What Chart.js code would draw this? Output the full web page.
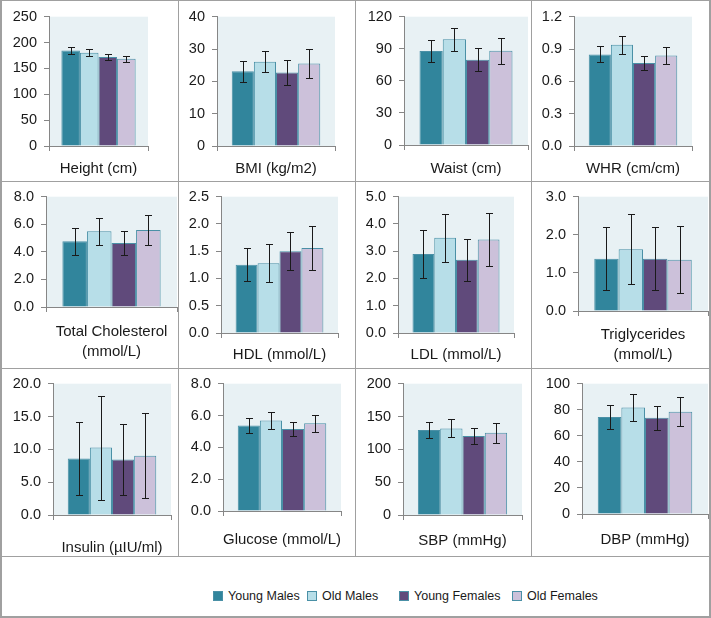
<!DOCTYPE html>
<html><head><meta charset="utf-8">
<script src="https://cdn.jsdelivr.net/npm/chart.js@4.4.1/dist/chart.umd.min.js"></script>
<style>
body{margin:0;background:#fff;}
#wrap{position:relative;width:711px;height:618px;overflow:hidden;font-family:"Liberation Sans",Arial,sans-serif;background:#fff;}
canvas{position:absolute;}
.ln{position:absolute;background:#a0a0a0;z-index:5;}
#legend{position:absolute;left:0;top:576px;width:711px;height:40px;font-size:12.5px;color:#1a1a1a;}
#legend .it{position:absolute;top:0;height:40px;display:flex;align-items:center;white-space:nowrap;}
#legend .sw{width:10px;height:10px;margin-right:5px;box-sizing:border-box;}
</style></head>
<body><div id="wrap"><div id="legend"></div></div>
<script>
const groups = ['Young Males','Old Males','Young Females','Old Females'];
const panelTitles = ['Height (cm)','BMI (kg/m2)','Waist (cm)','WHR (cm/cm)',['Total Cholesterol','(mmol/L)'],'HDL (mmol/L)','LDL (mmol/L)',['Triglycerides','(mmol/L)'],'Insulin (µIU/ml)','Glucose (mmol/L)','SBP (mmHg)','DBP (mmHg)'];
const youngMalesMean   = [184.5, 23.1, 88, 0.85, 4.77, 1.25, 2.9, 1.37, 8.6, 5.38, 129.4, 74.4];
const oldMalesMean     = [180.4, 26.1, 98.8, 0.94, 5.49, 1.28, 3.49, 1.62, 10.27, 5.68, 131.9, 81.8];
const youngFemalesMean = [172, 22.7, 79.7, 0.77, 4.65, 1.5, 2.69, 1.37, 8.44, 5.15, 120.5, 73.9];
const oldFemalesMean   = [168.5, 25.5, 88.2, 0.84, 5.58, 1.56, 3.43, 1.345, 9.04, 5.52, 125.4, 78.4];
const youngMalesSd   = [7, 3.2, 10.3, 0.075, 0.98, 0.304, 0.87, 0.83, 5.58, 0.47, 11.6, 9.3];
const oldMalesSd     = [6.5, 3.35, 11, 0.083, 0.96, 0.35, 0.88, 0.914, 7.93, 0.53, 13.6, 10.4];
const youngFemalesSd = [5.5, 3.8, 10.6, 0.069, 0.86, 0.353, 0.775, 0.83, 5.43, 0.45, 11.6, 9.2];
const oldFemalesSd   = [6, 4.45, 12.2, 0.08, 1.06, 0.407, 0.98, 0.875, 6.52, 0.54, 15.3, 11.1];
const yMax = [250, 40, 120, 1.2, 8, 2.5, 5, 3, 20, 8, 200, 100];
const yStep = [50, 10, 30, 0.3, 2, 0.5, 1, 1, 5, 2, 50, 20];
const yDecimals = [0, 0, 0, 1, 1, 1, 1, 1, 1, 1, 0, 0];

const means = [youngMalesMean, oldMalesMean, youngFemalesMean, oldFemalesMean];
const sds = [youngMalesSd, oldMalesSd, youngFemalesSd, oldFemalesSd];
const fills = ['#31859c', '#b7dee8', '#604a7b', '#ccc1da'];
const edge = '#4a90a6';

// layout
const colX = [2, 178, 355, 531, 709];
const rowY = [1, 181, 368, 556];
// plot area per panel: left, right, top, bottom, centre of last title line
const areas = [
 [49,148,12,146,169],[217,335,12,146,169],[404,528,12,145,169],[574,692,12,146,169],
 [46,177,196,307,352],[221,338,196,333,355],[398,514,196,333,355],[578,708,196,311,355],
 [53,171,380,515,548],[223,341,380,511,540],[403,522,380,515,541],[582,708,380,514,540]];
const legendLeft = [213, 307, 399, 512];
const FAM = '"Liberation Sans", Arial, sans-serif';
const FONT = {family:FAM, size:14.5};
const TFONT = {family:FAM, size:15, lineHeight:1.37};

const bgPlugin = {
  id:'bg',
  beforeDraw(chart){
    const a = chart.chartArea, c = chart.ctx;
    c.save(); c.fillStyle = '#e8f1f4'; c.fillRect(a.left, a.top, a.right-a.left, a.bottom-a.top); c.restore();
  }
};
const errPlugin = {
  id:'err',
  afterDatasetsDraw(chart){
    const c = chart.ctx, ys = chart.scales.y;
    c.save(); c.strokeStyle = '#1a1a1a'; c.lineWidth = 1;
    chart.data.datasets.forEach((ds, i) => {
      const bar = chart.getDatasetMeta(i).data[0];
      const m = ds.data[0], s = ds.sd;
      const x = Math.round(bar.x) + 0.5;
      const yt = Math.round(ys.getPixelForValue(m + s)) + 0.5;
      const yb = Math.round(ys.getPixelForValue(m - s)) + 0.5;
      c.beginPath();
      c.moveTo(x, yt); c.lineTo(x, yb);
      c.moveTo(x - 3.5, yt); c.lineTo(x + 3.5, yt);
      c.moveTo(x - 3.5, yb); c.lineTo(x + 3.5, yb);
      c.stroke();
    });
    c.restore();
  }
};

const wrap = document.getElementById('wrap');
panelTitles.forEach((title, i) => {
  const col = i % 4, row = Math.floor(i / 4);
  const cl = colX[col], cr = colX[col+1], ct = rowY[row], cb = rowY[row+1];
  const a = areas[i];
  const cv = document.createElement('canvas');
  cv.width = cr - cl; cv.height = cb - ct;
  cv.style.left = cl + 'px'; cv.style.top = ct + 'px';
  wrap.appendChild(cv);
  const lh = TFONT.size * TFONT.lineHeight;
  const xH = cb - a[3];
  const yW = a[0] - cl;
  const titlePadBottom = cb - a[4] - lh / 2;
  new Chart(cv, {
    type:'bar',
    data:{
      labels:[''],
      datasets: groups.map((g, k) => ({
        label:g, data:[means[k][i]], sd:sds[k][i],
        backgroundColor:fills[k], borderColor:edge, borderWidth:1,
        barPercentage:1, categoryPercentage:0.75
      }))
    },
    options:{
      responsive:false, animation:false, devicePixelRatio:1,
      layout:{padding:{left:0, right:cr-a[1], top:a[2]-ct, bottom:0}},
      plugins:{legend:{display:false}, tooltip:{enabled:false}},
      scales:{
        x:{
          offset:true,
          ticks:{display:false},
          grid:{offset:true, drawOnChartArea:false, drawTicks:true, tickLength:5, color:'#868686'},
          border:{color:'#868686'},
          title:{display:true, text:title, font:TFONT, color:'#1a1a1a', padding:{top:0, bottom:titlePadBottom}},
          afterFit(s){ s.height = xH; }
        },
        y:{
          min:0, max:yMax[i],
          ticks:{stepSize:yStep[i], font:FONT, color:'#1a1a1a', padding:7,
                 callback:v => Number(v).toFixed(yDecimals[i])},
          grid:{drawOnChartArea:false, drawTicks:true, tickLength:5, color:'#868686'},
          border:{color:'#868686'},
          afterFit(s){ s.width = yW; }
        }
      }
    },
    plugins:[bgPlugin, errPlugin]
  });
});

// cell borders
function line(x, y, w, h){ const d = document.createElement('div'); d.className='ln';
  d.style.left=x+'px'; d.style.top=y+'px'; d.style.width=w+'px'; d.style.height=h+'px'; wrap.appendChild(d); }
line(0, 0, 711, 1); line(0, 616, 711, 2); line(0, 0, 2, 618); line(709, 0, 2, 618);
[178, 355, 531].forEach(x => line(x, 0, 1, 556));
[181, 368, 556].forEach(y => line(0, y, 711, 1));

// legend
const lg = document.getElementById('legend');
groups.forEach((g, k) => {
  const it = document.createElement('div'); it.className = 'it';
  it.style.left = legendLeft[k] + 'px';
  const sw = document.createElement('span'); sw.className = 'sw';
  sw.style.background = fills[k]; sw.style.border = '1px solid ' + edge;
  const t = document.createElement('span'); t.textContent = g;
  it.appendChild(sw); it.appendChild(t); lg.appendChild(it);
});
</script></body></html>
